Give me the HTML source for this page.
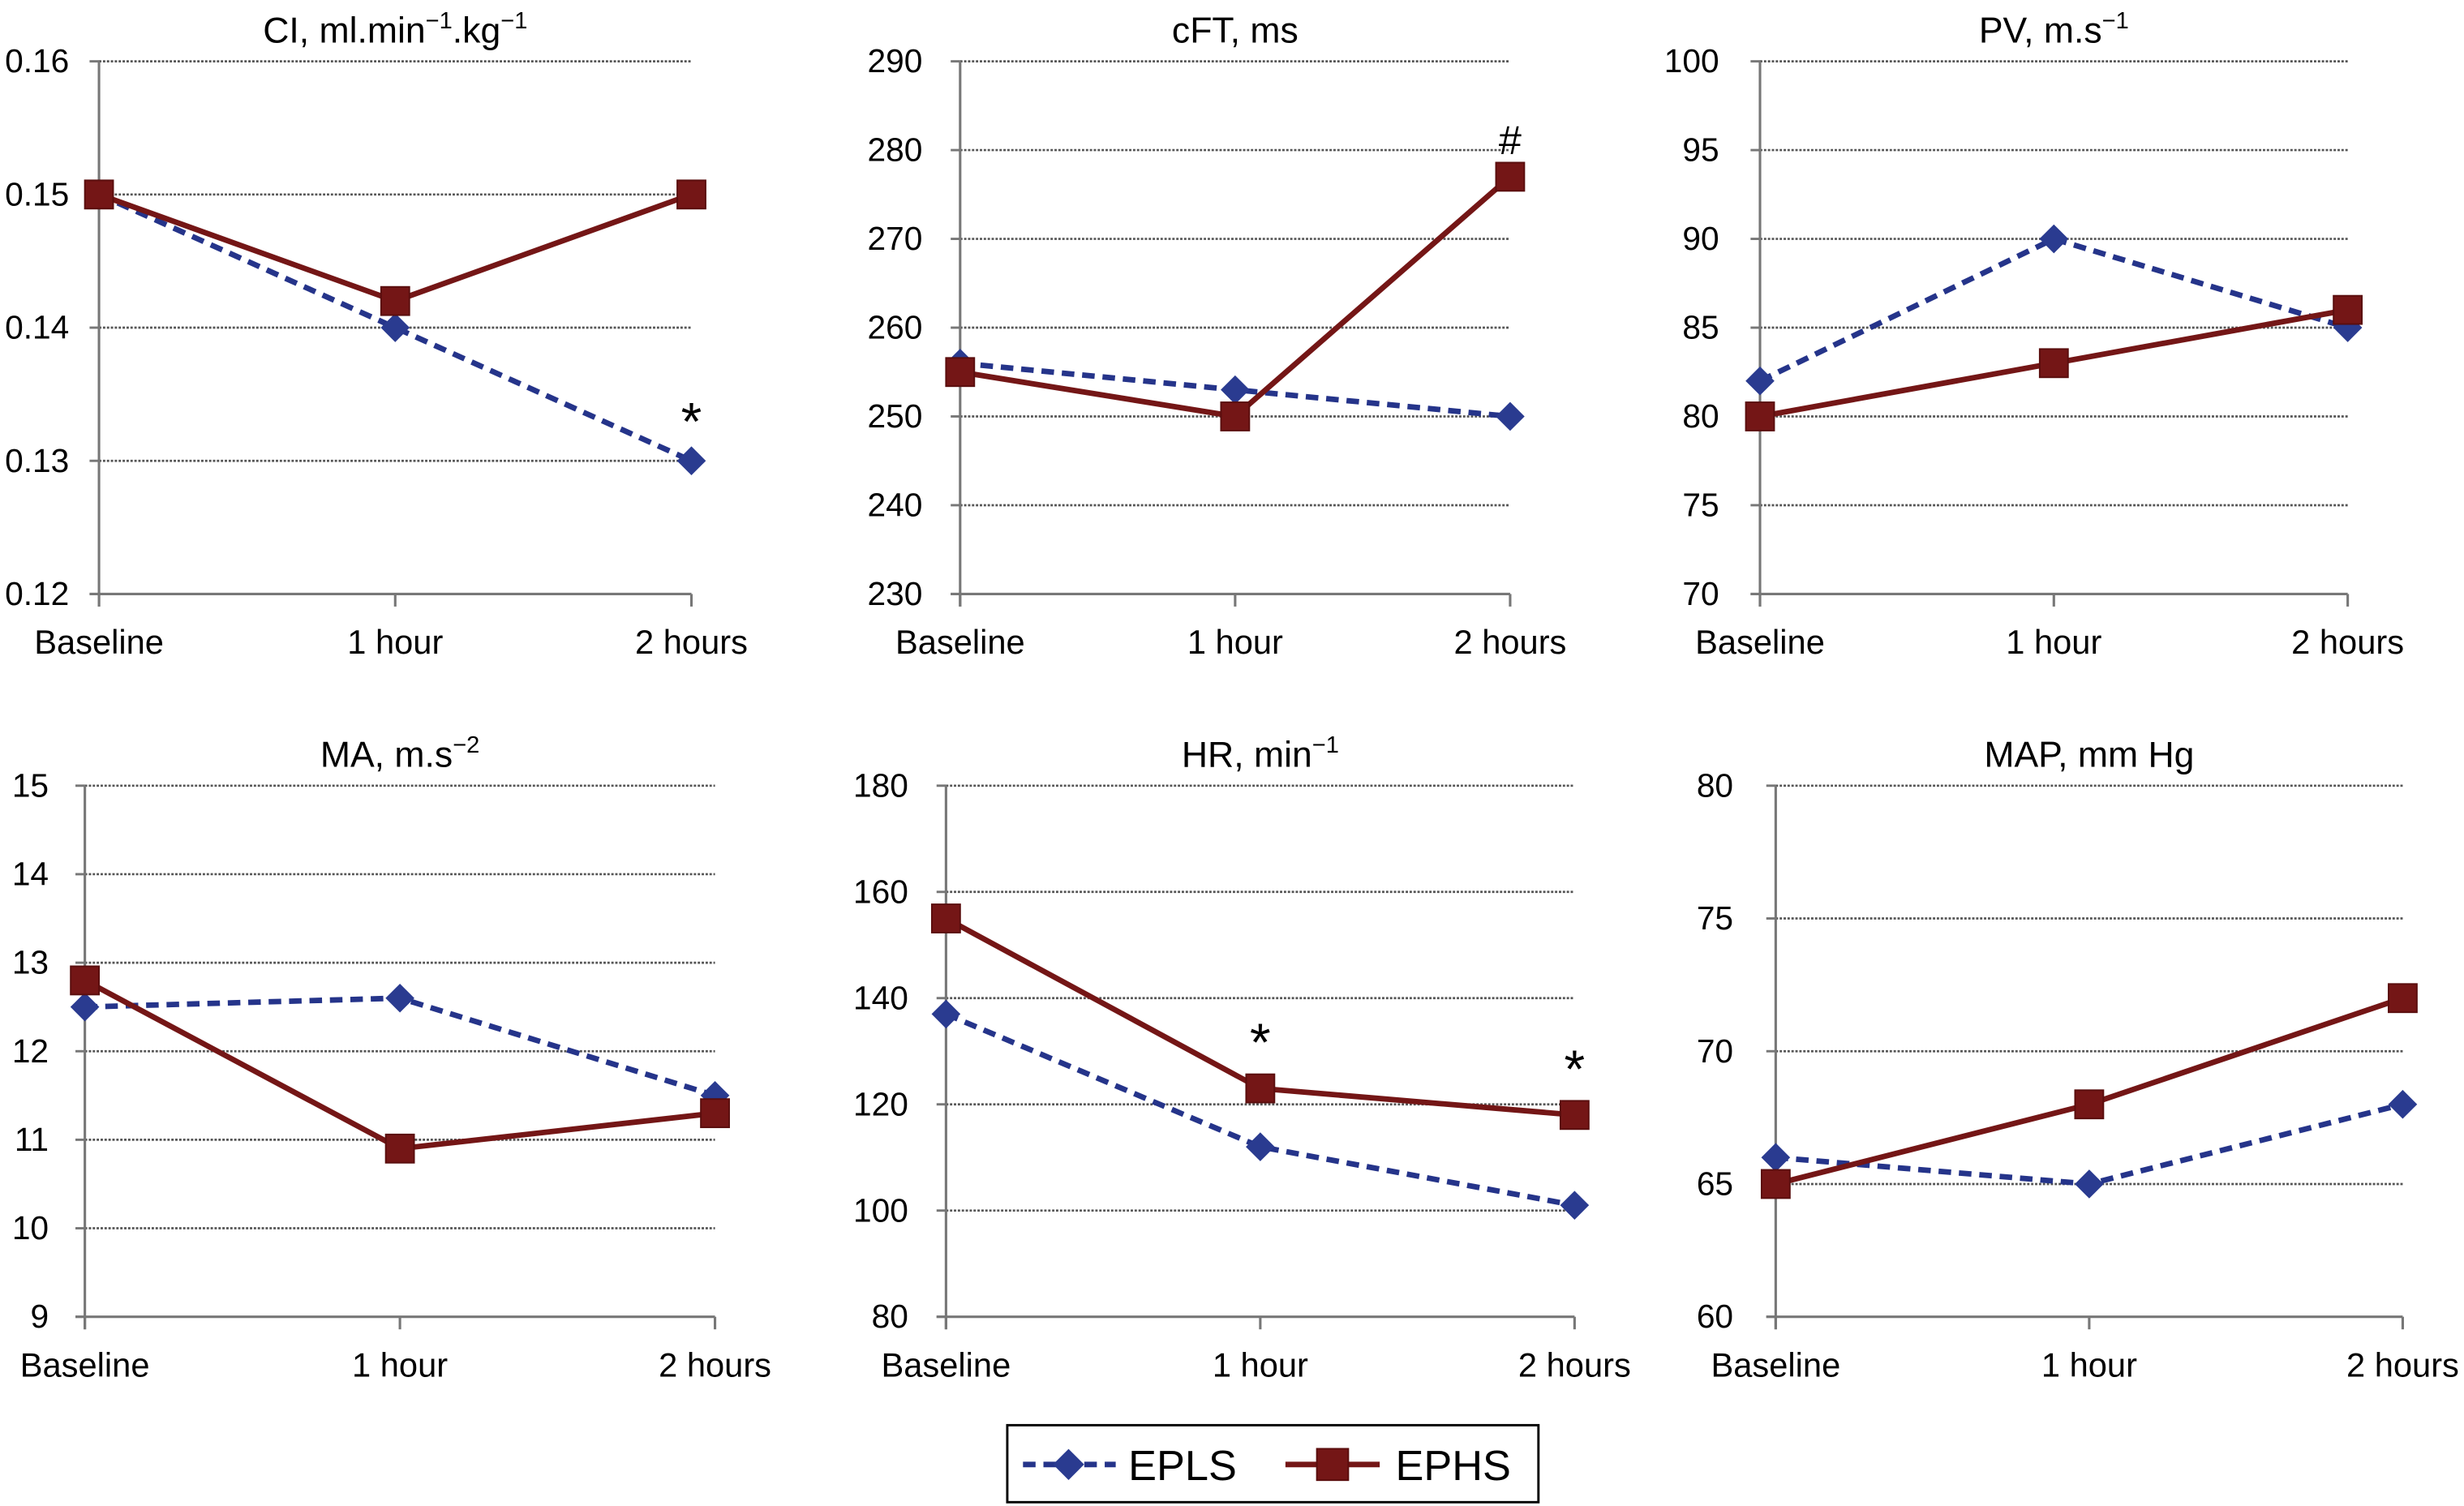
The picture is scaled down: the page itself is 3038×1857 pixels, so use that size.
<!DOCTYPE html>
<html><head><meta charset="utf-8"><style>
html,body{margin:0;padding:0;background:#fff;}
svg{display:block;font-family:"Liberation Sans",Arial,sans-serif;}
</style></head><body>
<svg id="chart" width="3038" height="1857" viewBox="0 0 1568 958.4" xmlns="http://www.w3.org/2000/svg">
<g id="legend">
<rect x="641" y="907" width="338" height="49" fill="#fff" stroke="#000" stroke-width="1.5"/>
<g>
<line x1="651" y1="932" x2="710" y2="932" stroke="#25348a" stroke-width="3.5" stroke-dasharray="8,5"/>
<rect x="673" y="925" width="14" height="14" fill="#2a3b90" transform="rotate(45 680 932)"/>
<text x="718" y="942" font-size="27" fill="#000">EPLS</text>
</g>
<g>
<line x1="818" y1="932" x2="878" y2="932" stroke="#741616" stroke-width="3.5"/>
<rect x="838" y="922" width="20" height="20" fill="#741616" stroke="#5a0e0e"/>
<text x="888" y="942" font-size="27" fill="#000">EPHS</text>
</g>
</g>
</svg>
<script>
const categories = ["Baseline", "1 hour", "2 hours"];
const ciEPLS = [0.15, 0.14, 0.13];
const ciEPHS = [0.15, 0.142, 0.15];
const ciTicks = ["0.16", "0.15", "0.14", "0.13", "0.12"];
const cftEPLS = [256, 253, 250];
const cftEPHS = [255, 250, 277];
const cftTicks = ["290", "280", "270", "260", "250", "240", "230"];
const pvEPLS = [82, 90, 85];
const pvEPHS = [80, 83, 86];
const pvTicks = ["100", "95", "90", "85", "80", "75", "70"];
const maEPLS = [12.5, 12.6, 11.5];
const maEPHS = [12.8, 10.9, 11.3];
const maTicks = ["15", "14", "13", "12", "11", "10", "9"];
const hrEPLS = [137, 112, 101];
const hrEPHS = [155, 123, 118];
const hrTicks = ["180", "160", "140", "120", "100", "80"];
const mapEPLS = [66, 65, 68];
const mapEPHS = [65, 68, 72];
const mapTicks = ["80", "75", "70", "65", "60"];

const NS = "http://www.w3.org/2000/svg";
const svg = document.getElementById("chart");
function mk(tag, attrs, parent) {
  const e = document.createElementNS(NS, tag);
  for (const k in attrs) e.setAttribute(k, attrs[k]);
  parent.appendChild(e);
  return e;
}
function panel(cfg) {
  const g = mk("g", {}, svg);
  
  
  const top = cfg.top, bot = cfg.bot, x0 = cfg.x0, x2 = cfg.x2;
  const vmax = parseFloat(cfg.ticks[0]), vmin = parseFloat(cfg.ticks[cfg.ticks.length - 1]);
  const y = v => bot - (v - vmin) / (vmax - vmin) * (bot - top);
  const x = i => x0 + i * (x2 - x0) / (categories.length - 1);
  const t = mk("text", {x: x(1), y: cfg.top - 12, "font-size": 23, "text-anchor": "middle"}, g);
  
  
  t.textContent = cfg.title;
  if (cfg.sup) {
    const s = mk("tspan", {"font-size": 15, dy: -9}, t); s.textContent = cfg.sup;
    if (cfg.tail) { const s2 = mk("tspan", {"font-size": 23, dy: 9}, t); s2.textContent = cfg.tail;
      const s3 = mk("tspan", {"font-size": 15, dy: -9}, t); s3.textContent = cfg.sup2; }
  }
  cfg.ticks.forEach(tk => {
    const v = parseFloat(tk), yy = y(v);
    if (v !== vmin) {
      const gl = mk("line", {x1: x0, x2: x2, y1: yy, y2: yy, stroke: "#555", "stroke-width": 1.4, "stroke-dasharray": "1.5,1"}, g);
      
      
    }
    mk("line", {x1: x0 - 6, x2: x0, y1: yy, y2: yy, stroke: "#777", "stroke-width": 1.5}, g);
    const lb = mk("text", {x: cfg.lx, y: yy + 7, "font-size": 21, "text-anchor": "end"}, g);
    
    
    lb.textContent = tk;
  });
  const ya = mk("line", {x1: x0, x2: x0, y1: top, y2: bot + 8, stroke: "#777", "stroke-width": 1.6}, g);
  
  
  const xa = mk("line", {x1: x0 - 6, x2: x2, y1: bot, y2: bot, stroke: "#777", "stroke-width": 1.6}, g);
  
  
  categories.forEach((c, i) => {
    mk("line", {x1: x(i), x2: x(i), y1: bot, y2: bot + 8, stroke: "#777", "stroke-width": 1.6}, g);
    const cl = mk("text", {x: x(i), y: bot + 38, "font-size": 21.5, "text-anchor": "middle"}, g);
    
    
    cl.textContent = c;
  });
  const p1 = cfg.epls.map((v, i) => x(i) + "," + y(v)).join(" ");
  const l1 = mk("polyline", {points: p1, fill: "none", stroke: "#25348a", "stroke-width": 3.5, "stroke-dasharray": "8,5"}, g);
  
  
  const p2 = cfg.ephs.map((v, i) => x(i) + "," + y(v)).join(" ");
  const l2 = mk("polyline", {points: p2, fill: "none", stroke: "#741616", "stroke-width": 3.5}, g);
  
  
  cfg.epls.forEach((v, i) => {
    const cx = x(i), cy = y(v);
    const d = mk("rect", {x: cx - 6.5, y: cy - 6.5, width: 13, height: 13, fill: "#2a3b90", transform: "rotate(45 " + cx + " " + cy + ")"}, g);
    
    
  });
  cfg.ephs.forEach((v, i) => {
    const cx = x(i), cy = y(v);
    const s = mk("rect", {x: cx - 9, y: cy - 9, width: 18, height: 18, fill: "#741616", stroke: "#5a0e0e"}, g);
    
    
  });
  (cfg.marks || []).forEach(m => {
    const mt = mk("text", {x: x(m.i), y: m.y, "font-size": m.s, "text-anchor": "middle"}, g);
    
    
    mt.textContent = m.t;
  });
}
panel({name: "ci", title: "CI, ml.min", sup: "\u22121", tail: ".kg", sup2: "\u22121", ticks: ciTicks, epls: ciEPLS, ephs: ciEPHS, x0: 63, x2: 440, top: 39, bot: 378, lx: 44, marks: [{i: 2, y: 280, t: "*", s: 34}]});
panel({name: "cft", title: "cFT, ms", ticks: cftTicks, epls: cftEPLS, ephs: cftEPHS, x0: 611, x2: 961, top: 39, bot: 378, lx: 587, marks: [{i: 2, y: 98, t: "#", s: 26}]});
panel({name: "pv", title: "PV, m.s", sup: "\u22121", ticks: pvTicks, epls: pvEPLS, ephs: pvEPHS, x0: 1120, x2: 1494, top: 39, bot: 378, lx: 1094});
panel({name: "ma", title: "MA, m.s", sup: "\u22122", ticks: maTicks, epls: maEPLS, ephs: maEPHS, x0: 54, x2: 455, top: 500, bot: 838, lx: 31});
panel({name: "hr", title: "HR, min", sup: "\u22121", ticks: hrTicks, epls: hrEPLS, ephs: hrEPHS, x0: 602, x2: 1002, top: 500, bot: 838, lx: 578, marks: [{i: 1, y: 675, t: "*", s: 34}, {i: 2, y: 692, t: "*", s: 34}]});
panel({name: "map", title: "MAP, mm Hg", ticks: mapTicks, epls: mapEPLS, ephs: mapEPHS, x0: 1130, x2: 1529, top: 500, bot: 838, lx: 1103});
</script>
</body></html>
